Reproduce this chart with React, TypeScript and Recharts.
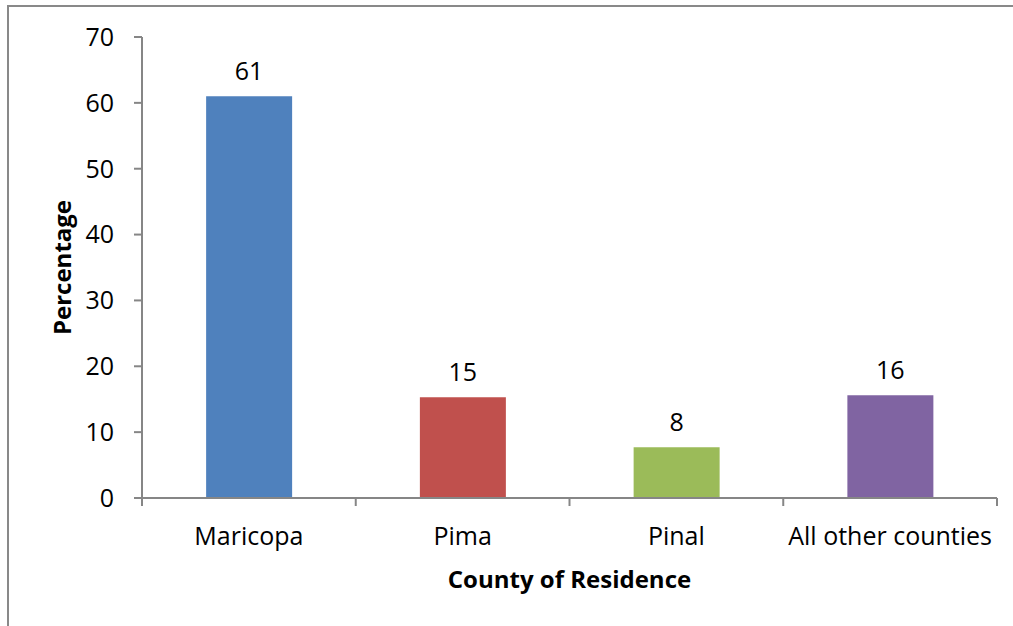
import { BarChart, Bar, XAxis, YAxis, LabelList, Cell } from 'recharts';

const counties = ['Maricopa', 'Pima', 'Pinal', 'All other counties'];
const percentages = [61, 15.3, 7.7, 15.6];
const barColors = ['#4F81BD', '#C0504D', '#9BBB59', '#8064A2'];
const yTicks = [0, 10, 20, 30, 40, 50, 60, 70];

const data = counties.map((county, i) => ({ county, value: percentages[i] }));

const font = "'Open Sans', sans-serif";
const axisGray = '#868686';

const W = 1013;
const H = 626;
const M = { top: 37, right: 16, left: 0, bottom: 0 };
const Y_AXIS_W = 142;
const X_AXIS_H = 128;
const band = (W - M.left - M.right - Y_AXIS_W) / counties.length;
const axisY = H - M.bottom - X_AXIS_H;

// category label plus tick marks at the category boundaries (Excel style)
function CountyTick(props: any) {
    const { x, y, payload, index } = props;
    const left = x - band / 2;
    const right = x + band / 2;
    return (
        <g>
            <line x1={left} x2={left} y1={axisY} y2={axisY + 8} stroke={axisGray} strokeWidth={2} />
            {index === counties.length - 1 && (
                <line x1={right} x2={right} y1={axisY} y2={axisY + 8} stroke={axisGray} strokeWidth={2} />
            )}
            <text x={x} y={y} dy="0.71em" textAnchor="middle" fill="#000" fontSize={25} fontFamily={font}>
                {payload.value}
            </text>
        </g>
    );
}

export default function App() {
    return (
        <div style={{ position: 'absolute', left: 0, top: 0, width: W, height: H, background: '#fff', fontFamily: font }}>
            <div
                style={{
                    position: 'absolute',
                    left: 7,
                    top: 5,
                    width: W,
                    height: H,
                    borderLeft: '2px solid #898989',
                    borderTop: '2px solid #898989',
                }}
            />
            <BarChart
                width={W}
                height={H}
                data={data}
                margin={M}
                barCategoryGap="30%"
                style={{ position: 'absolute', left: 0, top: 0 }}
            >
                <XAxis
                    dataKey="county"
                    height={X_AXIS_H}
                    interval={0}
                    tickLine={false}
                    axisLine={{ stroke: axisGray, strokeWidth: 2 }}
                    tick={<CountyTick />}
                    tickSize={8}
                    tickMargin={21}
                    label={{
                        value: 'County of Residence',
                        position: 'insideBottom',
                        offset: 38,
                        fill: '#000',
                        fontSize: 24,
                        fontWeight: 'bold',
                        fontFamily: font,
                    }}
                />
                <YAxis
                    width={Y_AXIS_W}
                    domain={[0, 70]}
                    ticks={yTicks}
                    interval={0}
                    axisLine={{ stroke: axisGray, strokeWidth: 2 }}
                    tickLine={{ stroke: axisGray, strokeWidth: 2 }}
                    tickSize={8}
                    tickMargin={20}
                    tick={{ fill: '#000', fontSize: 25, fontFamily: font }}
                    label={{
                        value: 'Percentage',
                        angle: -90,
                        position: 'insideLeft',
                        offset: 62,
                        style: { textAnchor: 'middle' },
                        fill: '#000',
                        fontSize: 24,
                        fontWeight: 'bold',
                        fontFamily: font,
                    }}
                />
                <Bar dataKey="value" isAnimationActive={false}>
                    {data.map((entry, index) => (
                        <Cell key={`cell-${index}`} fill={barColors[index]} />
                    ))}
                    <LabelList
                        dataKey="value"
                        position="top"
                        offset={16}
                        formatter={(v: number) => Math.round(v)}
                        style={{ fill: '#000', fontSize: 25, fontFamily: font }}
                    />
                </Bar>
            </BarChart>
        </div>
    );
}
